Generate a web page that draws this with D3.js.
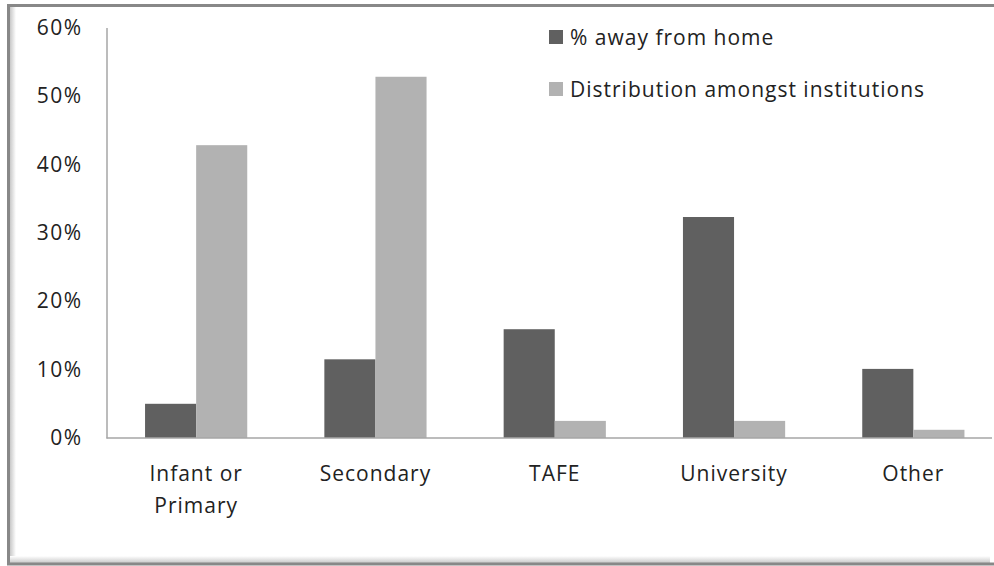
<!DOCTYPE html>
<html><head><meta charset="utf-8">
<script src="https://cdn.jsdelivr.net/npm/d3@7"></script>
<style>body{margin:0;background:#fff;}svg{display:block;}</style>
</head><body>
<svg id="c" width="994" height="566"></svg>
<script>
const categories = [["Infant or","Primary"],["Secondary"],["TAFE"],["University"],["Other"]];
const seriesNames = ["% away from home","Distribution amongst institutions"];
const awayFromHome = [5.0, 11.5, 15.9, 32.3, 10.1];
const distribution = [42.8, 52.8, 2.5, 2.5, 1.2];
const yTicks = [0,10,20,30,40,50,60];
const colors = ["#606060","#b2b2b2"];

const svg = d3.select("#c");
const font = "'Open Sans', sans-serif";

// frame
const defs = svg.append("defs");
const gl = defs.append("linearGradient").attr("id","gl").attr("x1","0").attr("x2","1");
gl.append("stop").attr("offset","0").attr("stop-color","#c8c8c8");
gl.append("stop").attr("offset","1").attr("stop-color","#ffffff");
const gb = defs.append("linearGradient").attr("id","gb").attr("x1","0").attr("x2","0").attr("y1","1").attr("y2","0");
gb.append("stop").attr("offset","0").attr("stop-color","#c8c8c8");
gb.append("stop").attr("offset","1").attr("stop-color","#ffffff");
svg.append("rect").attr("x",10).attr("y",7).attr("width",6).attr("height",556).attr("fill","url(#gl)");
svg.append("rect").attr("x",10).attr("y",556).attr("width",980).attr("height",7).attr("fill","url(#gb)");
svg.append("rect").attr("x",8.5).attr("y",5.5).attr("width",990).attr("height",558.5)
  .attr("fill","none").attr("stroke","#888").attr("stroke-width",3);

const x0 = 106.5, plotRight = 1003, yBase = 438, yTop = 27.5;
const x = d3.scaleBand().domain(d3.range(categories.length)).range([x0, plotRight]).paddingInner(0.43).paddingOuter(0.215);
const xs = d3.scaleBand().domain([0,1]).range([0, x.bandwidth()]);
const y = d3.scaleLinear().domain([0,60]).range([yBase, yTop]);

// y axis
const ya = svg.append("g").attr("transform",`translate(${x0},0)`)
  .call(d3.axisLeft(y).tickValues(yTicks).tickSize(0).tickPadding(24).tickFormat(d=>d+"%"));
ya.select(".domain").attr("stroke","#a6a6a6").attr("stroke-width",1.5);
ya.selectAll("text").attr("font-family",font).attr("font-size",21).attr("letter-spacing",1.5).attr("fill","#222");

// bars
const series = [awayFromHome, distribution];
series.forEach((vals,si)=>{
  svg.append("g").selectAll("rect").data(vals).join("rect")
    .attr("x",(d,i)=>x(i)+xs(si)).attr("width",xs.bandwidth())
    .attr("y",d=>y(d)).attr("height",d=>yBase-y(d))
    .attr("fill",colors[si]);
});

// x axis
const xa = svg.append("g").attr("transform",`translate(0,${yBase})`)
  .call(d3.axisBottom(x).tickSize(0).tickFormat(""));
xa.select(".domain").attr("stroke","#a6a6a6").attr("stroke-width",1.5).attr("d",`M${x0},0H992`);
const lab = svg.append("g");
categories.forEach((lines,i)=>{
  const cx = x(i)+x.bandwidth()/2;
  const t = lab.append("text").attr("x",cx).attr("y",481)
    .attr("text-anchor","middle").attr("font-family",font).attr("font-size",21).attr("letter-spacing",1).attr("fill","#222");
  lines.forEach((l,j)=>t.append("tspan").attr("x",cx).attr("dy",j?32:0).text(l));
});

// legend
const lg = svg.append("g");
seriesNames.forEach((n,i)=>{
  lg.append("rect").attr("x",549).attr("y",30+i*52).attr("width",14).attr("height",14).attr("fill",colors[i]);
  lg.append("text").attr("x",570).attr("y",45+i*52).attr("font-family",font).attr("font-size",21).attr("letter-spacing",1).attr("fill","#222").text(n);
});
</script>
</body></html>
